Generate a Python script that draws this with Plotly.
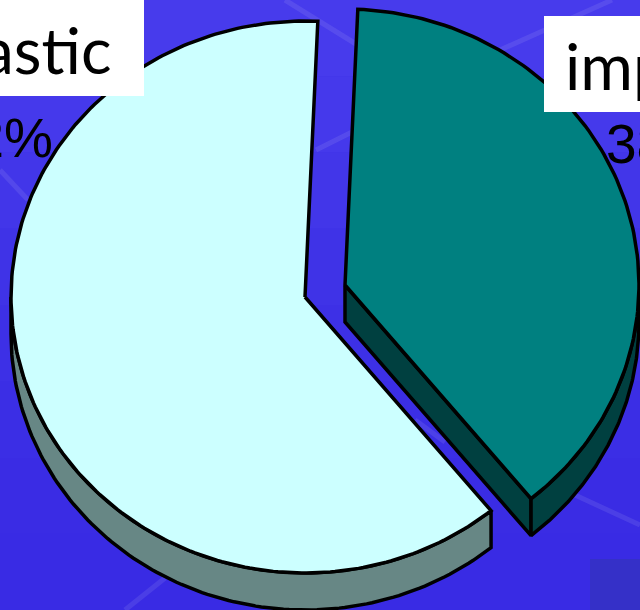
import numpy as np
import plotly.graph_objects as go

categories = ["plastic", "implastic"]
percent_labels = ["62%", "38%"]
values = [61.6, 38.4]
top_colors = ["#CCFFFF", "#008080"]
side_colors = ["#678785", "#004040"]

W, H = 640, 610
RX, RY, DEPTH = 294, 276, 37
START_ANGLE = 2.5
left_apex = (305, 297)
right_apex = (345, 285)


def arc(apex, a0, a1, dy=0, n=120):
    t = np.radians(np.linspace(a0, a1, n))
    return apex[0] + RX * np.sin(t), apex[1] - RY * np.cos(t) + dy


def poly(xs, ys, color, lw=3.5):
    return go.Scatter(x=list(xs), y=list(ys), mode="lines", fill="toself", fillcolor=color,
                      line=dict(color="black", width=lw), hoverinfo="skip", showlegend=False)


sweep_right = 360 * values[1] / sum(values)
split = START_ANGLE + sweep_right

fig = go.Figure()

# percentage labels sit behind the pie
fig.add_trace(go.Scatter(x=[53], y=[143], mode="text", text=[percent_labels[0]],
                         textposition="middle left", showlegend=False, hoverinfo="skip",
                         textfont=dict(family="Liberation Sans", size=55, color="black")))
fig.add_trace(go.Scatter(x=[606], y=[149], mode="text", text=[percent_labels[1]],
                         textposition="middle right", showlegend=False, hoverinfo="skip",
                         textfont=dict(family="Liberation Sans", size=55, color="black")))

# large slice: wall, then top
ax, ay = arc(left_apex, split, 270)
bx, by = arc(left_apex, 270, split, dy=DEPTH)
fig.add_trace(poly(np.r_[ax, bx, ax[0]], np.r_[ay, by, ay[0]], side_colors[0]))
tx, ty = arc(left_apex, split, 360 + START_ANGLE, n=240)
fig.add_trace(poly(np.r_[left_apex[0], tx, left_apex[0]], np.r_[left_apex[1], ty, left_apex[1]], top_colors[0]))

# small slice: cut face, outer wall, then top
ex, ey = arc(right_apex, split, split, n=1)
fig.add_trace(poly([right_apex[0], ex[0], ex[0], right_apex[0], right_apex[0]],
                   [right_apex[1], ey[0], ey[0] + DEPTH, right_apex[1] + DEPTH, right_apex[1]],
                   side_colors[1]))
ax, ay = arc(right_apex, 90, split)
bx, by = arc(right_apex, split, 90, dy=DEPTH)
fig.add_trace(poly(np.r_[ax, bx, ax[0]], np.r_[ay, by, ay[0]], side_colors[1]))
tx, ty = arc(right_apex, START_ANGLE, split)
fig.add_trace(poly(np.r_[right_apex[0], tx, right_apex[0]], np.r_[right_apex[1], ty, right_apex[1]], top_colors[1]))

shapes = []
# background: vertical colour bands
bands = ["#473BEC", "#4539EB", "#4236E9", "#3F33E7", "#3D30E6", "#3B2EE5", "#3A2CE4", "#392BE4"]
for i, c in enumerate(bands):
    shapes.append(dict(type="rect", layer="below", x0=0, x1=W, y0=i * H / len(bands), y1=(i + 1) * H / len(bands),
                       fillcolor=c, line_width=0))
shapes.append(dict(type="rect", layer="below", x0=590, x1=W, y0=559, y1=H, fillcolor="#3530C8", line_width=0))
for x0, y0, x1, y1 in [(285, 0, 356, 44), (316, 150, 356, 130), (500, 50, 612, 0), (575, 495, 640, 525),
                       (125, 610, 165, 578), (0, 170, 28, 200), (415, 420, 445, 442)]:
    shapes.append(dict(type="line", layer="below", x0=x0, y0=y0, x1=x1, y1=y1,
                       line=dict(color="rgba(255,255,255,0.09)", width=5)))
# label boxes
shapes.append(dict(type="rect", layer="above", x0=-10, x1=144, y0=-10, y1=96, fillcolor="white", line_width=0))
shapes.append(dict(type="rect", layer="above", x0=544, x1=W + 10, y0=16, y1=112, fillcolor="white", line_width=0))

label_font = dict(family="Lato", size=64, color="black")
fig.update_layout(
    width=W, height=H, margin=dict(l=0, r=0, t=0, b=0), showlegend=False,
    paper_bgcolor="#3F33E7", plot_bgcolor="rgba(0,0,0,0)", shapes=shapes,
    xaxis=dict(range=[0, W], visible=False, fixedrange=True),
    yaxis=dict(range=[H, 0], visible=False, fixedrange=True),
    annotations=[
        dict(xref="paper", yref="paper", x=113 / W, y=1 - 49 / H, text=categories[0], showarrow=False,
             xanchor="right", yanchor="middle", font=label_font),
        dict(xref="paper", yref="paper", x=563 / W, y=1 - 65 / H, text=categories[1], showarrow=False,
             xanchor="left", yanchor="middle", font=label_font),
    ],
)
fig.write_html("out.html", config=dict(displayModeBar=False),
               post_script="document.body.style.margin='0';document.body.style.overflow='hidden';")
